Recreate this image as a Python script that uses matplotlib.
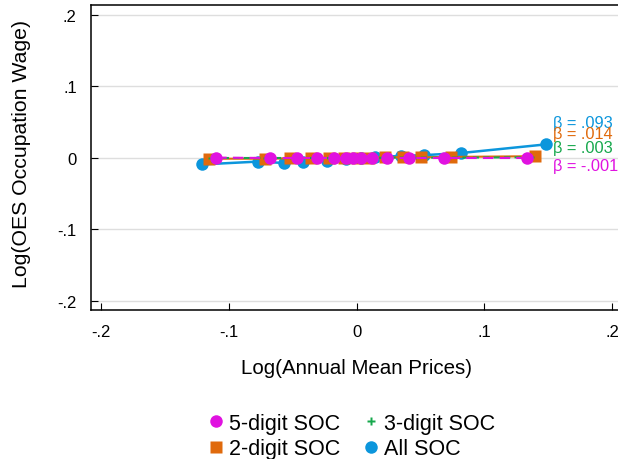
import matplotlib
matplotlib.use('Agg')
import matplotlib.pyplot as plt
from matplotlib.lines import Line2D

plt.rcParams['font.family'] = ['Liberation Sans', 'DejaVu Sans']

# binned log prices vs log wages, one series per SOC level
x_all = [-0.121, -0.077, -0.057, -0.042, -0.023, -0.008, 0.003, 0.014, 0.035, 0.053, 0.082, 0.148]
y_all = [-0.009, -0.005, -0.007, -0.006, -0.004, -0.002, 0.000, 0.001, 0.003, 0.004, 0.007, 0.019]

x_2d = [-0.116, -0.072, -0.052, -0.036, -0.022, -0.010, 0.000, 0.010, 0.022, 0.036, 0.050, 0.074, 0.140]
y_2d = [-0.001, -0.001, -0.0005, 0.0, 0.0, 0.0, 0.0005, 0.0005, 0.001, 0.001, 0.001, 0.0015, 0.0025]

x_3d = [-0.113, -0.070, -0.049, -0.033, -0.020, -0.009, -0.002, 0.004, 0.013, 0.025, 0.043, 0.070, 0.136]
y_3d = [0.0, 0.0, 0.0, 0.0, 0.0, 0.0, 0.0, 0.0, 0.0, 0.0005, 0.0005, 0.0005, 0.001]

x_5d = [-0.110, -0.068, -0.047, -0.031, -0.018, -0.008, -0.003, 0.003, 0.012, 0.024, 0.041, 0.068, 0.133]
y_5d = [0.0005, 0.0, 0.0, 0.0, 0.0, 0.0, 0.0, 0.0, 0.0, 0.0, 0.0, 0.0, 0.0]

betas = ['β = .093', 'β = .014', 'β = .003', 'β = -.001']
ticks = [-0.2, -0.1, 0, 0.1, 0.2]
tick_labels = ['-.2', '-.1', '0', '.1', '.2']

c_all = '#0C96DC'
c_2d = '#E06A0C'
c_3d = '#16A84C'
c_5d = '#E012E0'

fig = plt.figure(figsize=(6.18, 4.6), dpi=100)
ax = fig.add_axes([0.1468, 0.3239, 0.8608, 0.6631])

ax.plot(x_all, y_all, '-o', color=c_all, lw=1.8, ms=9, mec='none', zorder=3)
ax.plot(x_2d, y_2d, '-s', color=c_2d, lw=1.5, ms=8.5, mec='none', zorder=4)
ax.plot(x_3d, y_3d, '--P', color=c_3d, lw=1.5, ms=5.5, mec='none', dashes=(3, 2), zorder=5)
ax.plot(x_5d, y_5d, '--o', color=c_5d, lw=1.5, ms=9, mec='none', dashes=(5, 3), zorder=6)

# slope labels to the right of the lines
lab_y = [0.050, 0.0345, 0.0150, -0.0105]
for txt, yy, col in zip(betas, lab_y, [c_all, c_2d, c_3d, c_5d]):
    ax.text(0.1535, yy, txt, color=col, fontsize=11.8, ha='left', va='center',
            clip_on=False, zorder=7)

ax.set_xlim(-0.2083, 0.2083)
ax.set_ylim(-0.2126, 0.214)
ax.set_xticks(ticks)
ax.set_xticklabels(tick_labels)
ax.set_yticks(ticks)
ax.set_yticklabels(tick_labels)
ax.tick_params(direction='in', length=5, width=0.8, labelsize=12, pad=10)
ax.yaxis.grid(True, color='#dedede', lw=1)
ax.set_axisbelow(True)
for s in ax.spines.values():
    s.set_linewidth(1.1)

ax.set_xlabel('Log(Annual Mean Prices)', fontsize=14.8, labelpad=14)
ax.set_ylabel('Log(OES Occupation Wage)', fontsize=15.3, labelpad=17)
ax.yaxis.set_label_coords(-0.112, 0.515)

handles = [
    Line2D([], [], marker='o', color=c_5d, ls='none', ms=9, mec='none'),
    Line2D([], [], marker='s', color=c_2d, ls='none', ms=8.5, mec='none'),
    Line2D([], [], marker='P', color=c_3d, ls='none', ms=6, mec='none'),
    Line2D([], [], marker='o', color=c_all, ls='none', ms=9, mec='none'),
]
labels = ['5-digit SOC', '2-digit SOC', '3-digit SOC', 'All SOC']
fig.legend(handles, labels, ncol=2, loc='center', bbox_to_anchor=(0.57, 0.05),
           frameon=False, fontsize=15.5, handlelength=0.6, handletextpad=0.3,
           columnspacing=1.15, labelspacing=0.2)

fig.savefig('out.png', dpi=100)
